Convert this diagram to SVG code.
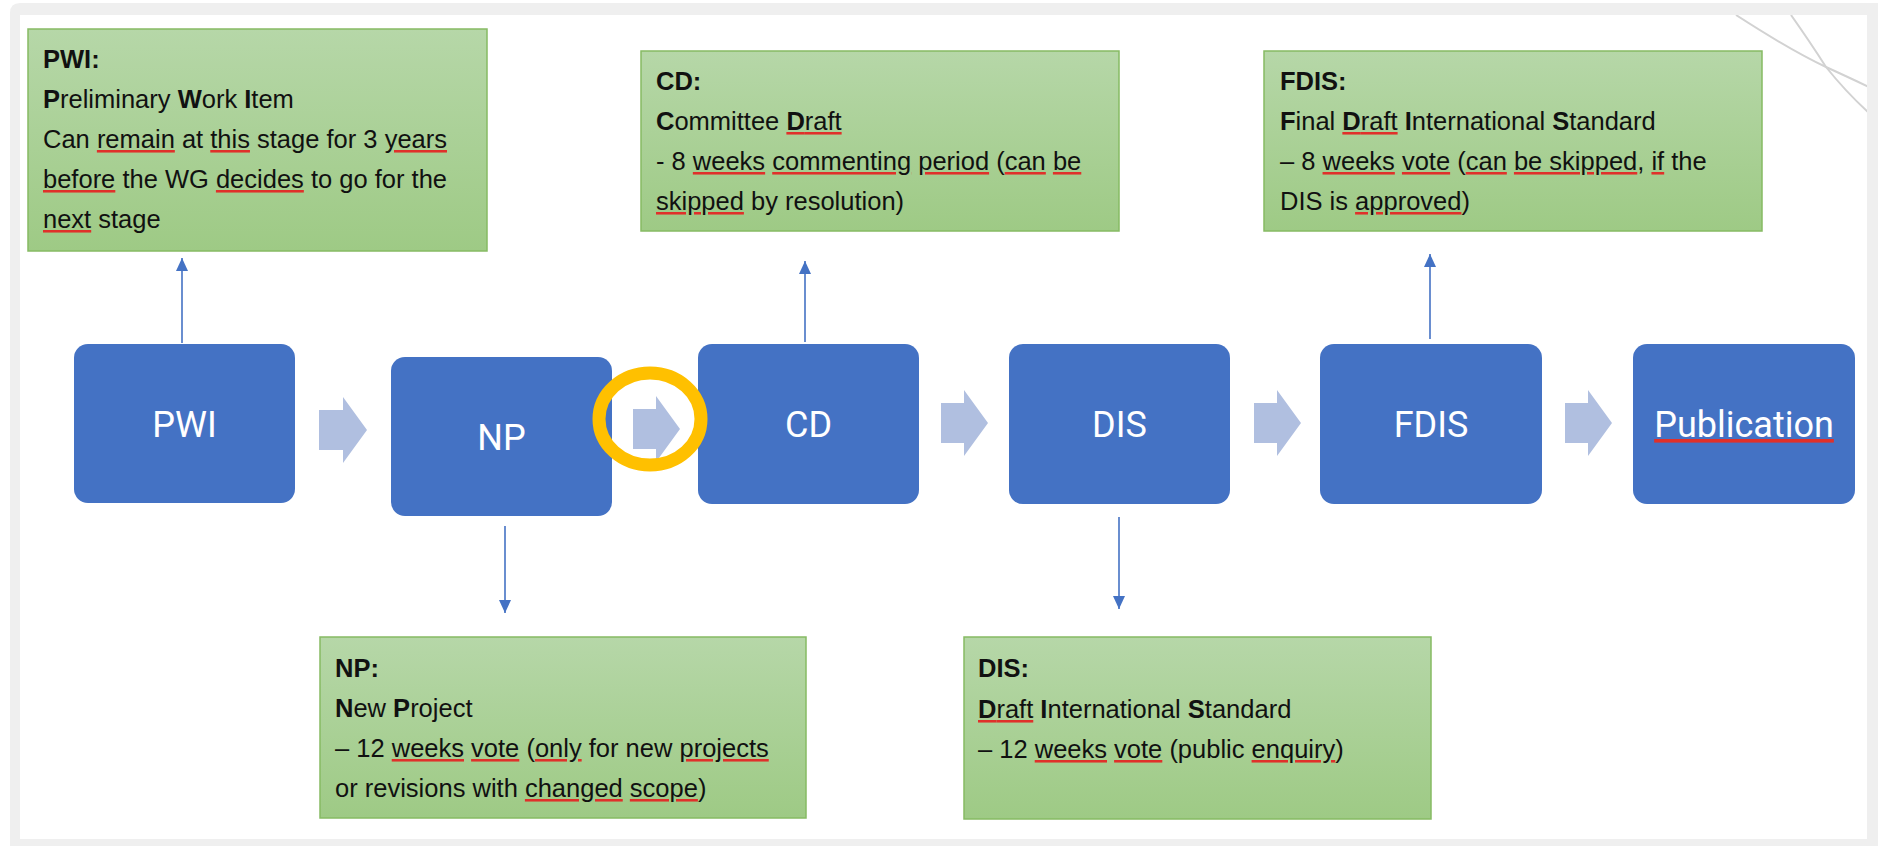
<svg xmlns="http://www.w3.org/2000/svg" width="1878" height="846" viewBox="0 0 1878 846">
<style>
.body{font-family:"Liberation Sans",Arial,sans-serif;font-size:25.5px;fill:#111}
.b{font-weight:bold}
.k{fill:#111}
.w{fill:#fff}
.lbl{font-family:Roboto,"Liberation Sans",sans-serif;font-size:36px;fill:#fff;text-anchor:middle}
.blue{fill:#4472C4}
.note{fill:url(#g);stroke:#86BB63;stroke-width:1.5}
.blk{fill:#B0BFE0}
.sq{fill:#E0302A;text-decoration:underline wavy #E0302A;text-decoration-thickness:1px;text-underline-offset:3px}
.con{stroke:#4472C4;stroke-width:1.6;fill:none;marker-end:url(#ah)}
.deco{stroke:#D2D2D2;stroke-width:2;fill:none}
</style>
<defs>
<linearGradient id="g" x1="0" y1="0" x2="0" y2="1">
<stop offset="0" stop-color="#B6D7A8"/>
<stop offset="1" stop-color="#9ECA85"/>
</linearGradient>
<marker id="ah" markerUnits="userSpaceOnUse" markerWidth="14" markerHeight="12" refX="13" refY="6" orient="auto">
<path d="M0,0 L13,6 L0,12 z" fill="#4472C4"/>
</marker>
<clipPath id="inner"><rect x="20" y="15" width="1847" height="824"/></clipPath>
</defs>
<rect x="0" y="0" width="1878" height="846" fill="#fff"/>
<path d="M10,13 Q10,3 20,3 L1878,3 L1878,846 L10,846 z" fill="#EFEFEF"/>
<rect x="20" y="15" width="1847" height="824" fill="#fff"/>
<g clip-path="url(#inner)">
<path class="deco" d="M1736,15 Q1790,50 1826,67 Q1850,78 1869,87"/>
<path class="deco" d="M1791,15 Q1810,42 1826,67 Q1846,92 1869,113"/>
</g>

<g id="connectors">
<path class="con" d="M182,343 L182,258"/>
<path class="con" d="M805,342 L805,261"/>
<path class="con" d="M1430,339 L1430,254"/>
<path class="con" d="M505,526 L505,613"/>
<path class="con" d="M1119,517 L1119,609"/>
<path class="blk" d="M319,410 L343,410 L343,397 L367,430 L343,463 L343,450 L319,450 z"/>
<path class="blk" d="M633,409 L656,409 L656,396 L680,429 L656,462 L656,449 L633,449 z"/>
<path class="blk" d="M941,403 L964,403 L964,390 L988,423 L964,456 L964,443 L941,443 z"/>
<path class="blk" d="M1254,403 L1277,403 L1277,390 L1301,423 L1277,456 L1277,443 L1254,443 z"/>
<path class="blk" d="M1565,403 L1588,403 L1588,390 L1612,423 L1588,456 L1588,443 L1565,443 z"/>
</g>

<g id="node-pwi">
<rect class="blue" x="74" y="344" width="221" height="159" rx="14"/>
<text class="lbl" x="184.5" y="437">PWI</text>
</g>
<g id="node-np">
<rect class="blue" x="391" y="357" width="221" height="159" rx="14"/>
<text class="lbl" x="501.5" y="450">NP</text>
</g>
<g id="node-cd">
<rect class="blue" x="698" y="344" width="221" height="160" rx="14"/>
<text class="lbl" x="808.5" y="437">CD</text>
</g>
<g id="node-dis">
<rect class="blue" x="1009" y="344" width="221" height="160" rx="14"/>
<text class="lbl" x="1119.5" y="437">DIS</text>
</g>
<g id="node-fdis">
<rect class="blue" x="1320" y="344" width="222" height="160" rx="14"/>
<text class="lbl" x="1431" y="437">FDIS</text>
</g>
<g id="node-publication">
<rect class="blue" x="1633" y="344" width="222" height="160" rx="14"/>
<text class="lbl" x="1744" y="437"><tspan class="sq"><tspan class="w">Publication</tspan></tspan></text>
</g>

<g id="note-pwi">
<rect class="note" x="28" y="29" width="459" height="222"/>
<text class="body" x="43" y="68"><tspan class="b">PWI:</tspan></text>
<text class="body" x="43" y="108"><tspan class="b">P</tspan>reliminary <tspan class="b">W</tspan>ork <tspan class="b">I</tspan>tem</text>
<text class="body" x="43" y="148">Can <tspan class="sq"><tspan class="k">remain</tspan></tspan> at <tspan class="sq"><tspan class="k">this</tspan></tspan> stage for 3 <tspan class="sq"><tspan class="k">years</tspan></tspan></text>
<text class="body" x="43" y="188"><tspan class="sq"><tspan class="k">before</tspan></tspan> the WG <tspan class="sq"><tspan class="k">decides</tspan></tspan> to go for the</text>
<text class="body" x="43" y="228"><tspan class="sq"><tspan class="k">next</tspan></tspan> stage</text>
</g>

<g id="note-cd">
<rect class="note" x="641" y="51" width="478" height="180"/>
<text class="body" x="656" y="90"><tspan class="b">CD:</tspan></text>
<text class="body" x="656" y="130"><tspan class="b">C</tspan>ommittee <tspan class="sq"><tspan class="k"><tspan class="b">D</tspan>raft</tspan></tspan></text>
<text class="body" x="656" y="170">- 8 <tspan class="sq"><tspan class="k">weeks</tspan></tspan> <tspan class="sq"><tspan class="k">commenting</tspan></tspan> <tspan class="sq"><tspan class="k">period</tspan></tspan> (<tspan class="sq"><tspan class="k">can</tspan></tspan> <tspan class="sq"><tspan class="k">be</tspan></tspan></text>
<text class="body" x="656" y="210"><tspan class="sq"><tspan class="k">skipped</tspan></tspan> by resolution)</text>
</g>

<g id="note-fdis">
<rect class="note" x="1264" y="51" width="498" height="180"/>
<text class="body" x="1280" y="90"><tspan class="b">FDIS:</tspan></text>
<text class="body" x="1280" y="130"><tspan class="b">F</tspan>inal <tspan class="sq"><tspan class="k"><tspan class="b">D</tspan>raft</tspan></tspan> <tspan class="b">I</tspan>nternational <tspan class="b">S</tspan>tandard</text>
<text class="body" x="1280" y="170">– 8 <tspan class="sq"><tspan class="k">weeks</tspan></tspan> <tspan class="sq"><tspan class="k">vote</tspan></tspan> (<tspan class="sq"><tspan class="k">can</tspan></tspan> <tspan class="sq"><tspan class="k">be skipped</tspan></tspan>, <tspan class="sq"><tspan class="k">if</tspan></tspan> the</text>
<text class="body" x="1280" y="210">DIS is <tspan class="sq"><tspan class="k">approved</tspan></tspan>)</text>
</g>

<g id="note-np">
<rect class="note" x="320" y="637" width="486" height="181"/>
<text class="body" x="335" y="677"><tspan class="b">NP:</tspan></text>
<text class="body" x="335" y="717"><tspan class="b">N</tspan>ew <tspan class="b">P</tspan>roject</text>
<text class="body" x="335" y="757">– 12 <tspan class="sq"><tspan class="k">weeks</tspan></tspan> <tspan class="sq"><tspan class="k">vote</tspan></tspan> (<tspan class="sq"><tspan class="k">only</tspan></tspan> for new <tspan class="sq"><tspan class="k">projects</tspan></tspan></text>
<text class="body" x="335" y="797">or revisions with <tspan class="sq"><tspan class="k">changed</tspan></tspan> <tspan class="sq"><tspan class="k">scope</tspan></tspan>)</text>
</g>

<g id="note-dis">
<rect class="note" x="964" y="637" width="467" height="182"/>
<text class="body" x="978" y="677"><tspan class="b">DIS:</tspan></text>
<text class="body" x="978" y="718"><tspan class="sq"><tspan class="k"><tspan class="b">D</tspan>raft</tspan></tspan> <tspan class="b">I</tspan>nternational <tspan class="b">S</tspan>tandard</text>
<text class="body" x="978" y="758">– 12 <tspan class="sq"><tspan class="k">weeks</tspan></tspan> <tspan class="sq"><tspan class="k">vote</tspan></tspan> (public <tspan class="sq"><tspan class="k">enquiry</tspan></tspan>)</text>
</g>

<g id="highlight">
<ellipse cx="650" cy="419" rx="51" ry="46" fill="none" stroke="#FFC000" stroke-width="13"/>
</g>
</svg>
